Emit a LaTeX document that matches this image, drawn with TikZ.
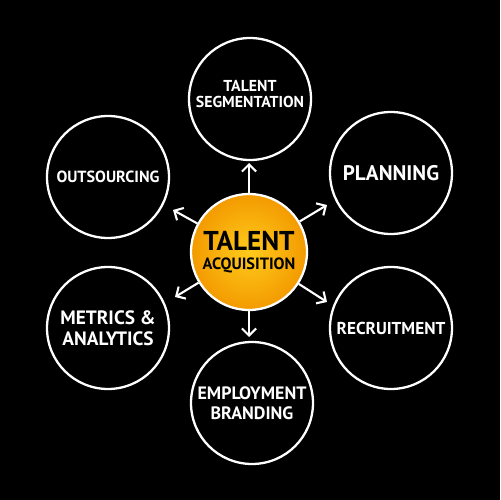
\documentclass[tikz,border=0pt]{standalone}
\usepackage{fontspec}
\setmainfont{PT Sans}
\usepackage{tikz}
\usetikzlibrary{arrows.meta}

\definecolor{hubinner}{HTML}{FFCB1C}
\definecolor{hubouter}{HTML}{F39A00}

\tikzset{
  topic/.style={circle,draw=white,line width=1.3pt,minimum size=2.44cm,inner sep=0pt,text=white,align=center},
  hub/.style={circle,draw=white,line width=1.3pt,minimum size=2.32cm,inner sep=0pt,inner color=hubinner,outer color=hubouter,align=center},
  spoke/.style={white,line width=1.2pt,-{Straight Barb[length=4pt,width=8pt]}}
}

\begin{document}
\begin{tikzpicture}[x=0.02cm,y=-0.02cm]
\fill[black] (0,0) rectangle (500,500);

\node[hub,font=\bfseries\fontsize{9.3}{10.6}\selectfont] (hub) at (249,252) {{\fontsize{15.5}{15.5}\selectfont TALENT}\\ACQUISITION};

\node[topic,font=\bfseries\fontsize{9}{9}\selectfont] (seg) at (250,99) {TALENT\\SEGMENTATION\\[-3.4pt]};
\node[topic,font=\bfseries\fontsize{9.2}{10}\selectfont] (out) at (108,177) {OUTSOURCING};
\node[topic,font=\bfseries\fontsize{12}{12}\selectfont] (plan) at (391,173) {PLANNING};
\node[topic,font=\bfseries\fontsize{11}{12}\selectfont] (met) at (108,328) {METRICS \&\\ANALYTICS};
\node[topic,font=\bfseries\fontsize{9.8}{10}\selectfont] (rec) at (391,328) {RECRUITMENT};
\node[topic,font=\bfseries\fontsize{10.2}{11.5}\selectfont] (emp) at (252,403) {EMPLOYMENT\\BRANDING};

\coordinate (tipn) at (249,163);
\coordinate (tips) at (249,337);
\coordinate (tipnw) at (173,210);
\coordinate (tipne) at (327,205);
\coordinate (tipsw) at (175,297);
\coordinate (tipse) at (327,302);

\draw[spoke] (hub) -- (tipn);
\draw[spoke] (hub) -- (tips);
\draw[spoke] (hub) -- (tipnw);
\draw[spoke] (hub) -- (tipne);
\draw[spoke] (hub) -- (tipsw);
\draw[spoke] (hub) -- (tipse);
\end{tikzpicture}
\end{document}
